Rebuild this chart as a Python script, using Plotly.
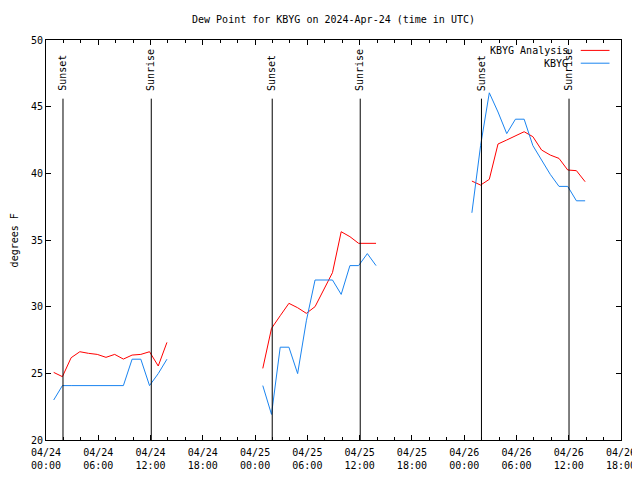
import plotly.graph_objects as go
from datetime import datetime, timedelta

# ---- data ----
days = ["2024-04-24", "2024-04-25", "2024-04-26"]
obs_hours = list(range(0, 14))  # observations at hh:53, 00:53 .. 13:53 each day

analysis_vals = [
    [25.07, 24.75, 26.17, 26.62, 26.50, 26.42, 26.20, 26.42, 26.07, 26.37, 26.42, 26.62, 25.55, 27.32],
    [25.37, 28.37, 29.32, 30.25, 29.92, 29.50, 30.00, 31.25, 32.55, 35.62, 35.25, 34.75, 34.75, 34.75],
    [39.42, 39.12, 39.55, 42.20, 42.50, 42.80, 43.12, 42.75, 41.75, 41.37, 41.12, 40.25, 40.20, 39.37],
]
obs_vals = [
    [23.00, 24.08, 24.08, 24.08, 24.08, 24.08, 24.08, 24.08, 24.08, 26.06, 26.06, 24.08, 24.98, 26.06],
    [24.08, 21.92, 26.96, 26.96, 24.98, 28.94, 32.00, 32.00, 32.00, 30.92, 33.08, 33.08, 33.98, 33.08],
    [37.04, 42.08, 46.04, 44.60, 42.98, 44.06, 44.06, 42.08, 41.00, 39.92, 39.02, 39.02, 37.94, 37.94],
]

sun_times = ["2024-04-24 01:57", "2024-04-24 12:05",
             "2024-04-25 01:58", "2024-04-25 12:04",
             "2024-04-26 01:59", "2024-04-26 12:02"]
sun_labels = ["Sunset", "Sunrise", "Sunset", "Sunrise", "Sunset", "Sunrise"]

tick_vals = ["2024-04-24 00:00", "2024-04-24 06:00", "2024-04-24 12:00", "2024-04-24 18:00",
             "2024-04-25 00:00", "2024-04-25 06:00", "2024-04-25 12:00", "2024-04-25 18:00",
             "2024-04-26 00:00", "2024-04-26 06:00", "2024-04-26 12:00", "2024-04-26 18:00"]
tick_text = ["04/24<br>00:00", "04/24<br>06:00", "04/24<br>12:00", "04/24<br>18:00",
             "04/25<br>00:00", "04/25<br>06:00", "04/25<br>12:00", "04/25<br>18:00",
             "04/26<br>00:00", "04/26<br>06:00", "04/26<br>12:00", "04/26<br>18:00"]
y_ticks = [20, 25, 30, 35, 40, 45, 50]

# ---- build series with gaps ----
def build(series):
    xs, ys = [], []
    for d, vals in zip(days, series):
        base = datetime.strptime(d, "%Y-%m-%d")
        for h, v in zip(obs_hours, vals):
            xs.append(base + timedelta(hours=h, minutes=53))
            ys.append(v)
        xs.append(base + timedelta(hours=14, minutes=30))
        ys.append(None)
    return xs, ys

RED = "#ff0000"
BLUE = "#1a84f0"
FONT = "DejaVu Sans Mono"

ax, ay = build(analysis_vals)
ox, oy = build(obs_vals)

fig = go.Figure()
fig.add_trace(go.Scatter(x=ax, y=ay, mode="lines", name="KBYG Analysis",
                         line=dict(color=RED, width=1), connectgaps=False))
fig.add_trace(go.Scatter(x=ox, y=oy, mode="lines", name="KBYG",
                         line=dict(color=BLUE, width=1), connectgaps=False))

shapes = []
annotations = []
for t, lab in zip(sun_times, sun_labels):
    shapes.append(dict(type="line", xref="x", yref="y", x0=t, x1=t, y0=20, y1=45.6,
                       line=dict(color="black", width=1)))
    annotations.append(dict(x=t, y=0.868, xref="x", yref="paper", text=lab, textangle=-90,
                            showarrow=False, xanchor="center", yanchor="bottom",
                            font=dict(family=FONT, size=10, color="black")))

# legend (gnuplot style: text right-aligned, sample to the right)
leg = [("KBYG Analysis", RED, 0.974), ("KBYG", BLUE, 0.942)]
for name, col, yy in leg:
    annotations.append(dict(x=0.912, y=yy, xref="paper", yref="paper", text=name,
                            showarrow=False, xanchor="right", yanchor="middle",
                            font=dict(family=FONT, size=10, color="black")))
    shapes.append(dict(type="line", xref="paper", yref="paper", x0=0.930, x1=0.980,
                       y0=yy, y1=yy, line=dict(color=col, width=1)))

annotations.append(dict(x=-0.055, y=0.5, xref="paper", yref="paper", text="degrees F",
                        textangle=-90, showarrow=False, xanchor="center", yanchor="middle",
                        font=dict(family=FONT, size=10, color="black")))

# the page adds an 8px body margin; size the figure so the plot lands where the reference has it
fig.update_layout(
    width=632, height=472,
    margin=dict(l=38, r=19, t=32, b=40, autoexpand=False),
    paper_bgcolor="white", plot_bgcolor="white",
    showlegend=False,
    title=dict(text="Dew Point for KBYG on 2024-Apr-24 (time in UTC)",
               x=0.5, xref="paper", y=1 - 11 / 472, yref="container",
               xanchor="center", yanchor="middle",
               font=dict(family=FONT, size=10, color="black")),
    shapes=shapes, annotations=annotations,
    font=dict(family=FONT, size=10, color="black"),
)
fig.update_xaxes(type="date", range=["2024-04-24 00:00", "2024-04-26 18:00"],
                 tickmode="array", tickvals=tick_vals, ticktext=tick_text,
                 ticks="inside", ticklen=5, tickcolor="black", automargin=False,
                 ticklabelstandoff=3,
                 minor=dict(ticks="inside", ticklen=3, dtick=2 * 3600 * 1000,
                            tick0="2024-04-24", tickcolor="black", showgrid=False),
                 showline=True, linecolor="black", linewidth=1, mirror="ticks",
                 showgrid=False, zeroline=False,
                 tickfont=dict(family=FONT, size=10, color="black"))
fig.update_yaxes(range=[20, 50], tickmode="array", tickvals=y_ticks,
                 ticks="inside", ticklen=5, tickcolor="black", automargin=False,
                 showline=True, linecolor="black", linewidth=1, mirror="ticks",
                 showgrid=False, zeroline=False,
                 tickfont=dict(family=FONT, size=10, color="black"))

fig.write_html("out.html")
